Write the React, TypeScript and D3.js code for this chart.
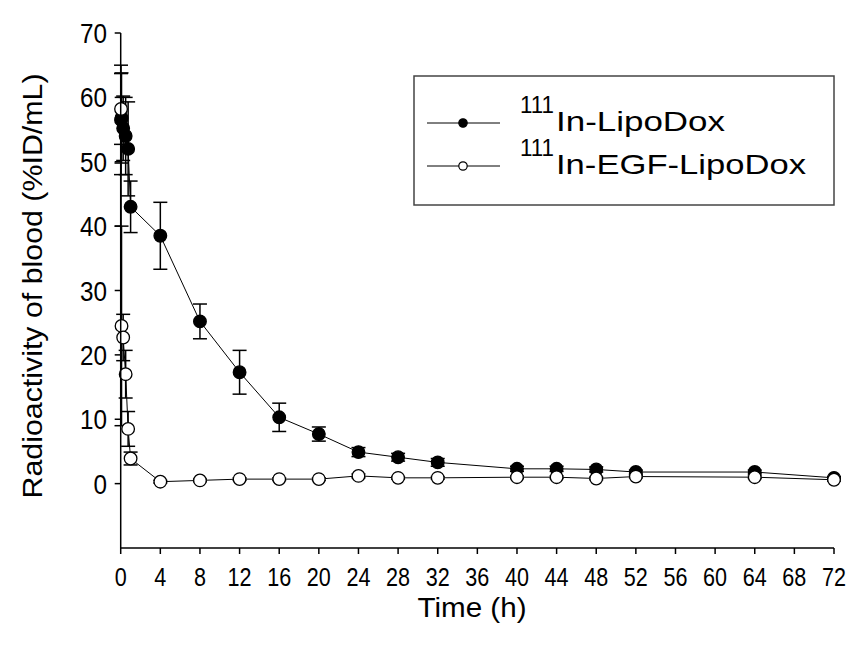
import React from "react";
import * as d3 from "d3";

// sampling times (h)
const times = [0.033, 0.083, 0.25, 0.5, 0.75, 1, 4, 8, 12, 16, 20, 24, 28, 32, 40, 44, 48, 52, 64, 72];

// 111In-LipoDox
const lipoMean = [56.5, 56.8, 55.2, 54, 52, 43, 38.5, 25.2, 17.3, 10.3, 7.7, 4.9, 4.1, 3.3, 2.3, 2.3, 2.2, 1.8, 1.8, 0.9];
const lipoSd = [8.5, 7, 5, 6, 7.3, 4, 5.2, 2.7, 3.4, 2.2, 1.1, 0.7, 0.6, 0.6, 0.4, 0.4, 0.4, 0.3, 0.3, 0.2];

// 111In-EGF-LipoDox
const egfMean = [58.2, 24.5, 22.7, 17, 8.5, 3.9, 0.3, 0.5, 0.7, 0.7, 0.7, 1.2, 0.9, 0.9, 1.0, 1.0, 0.8, 1.1, 1.0, 0.6];
const egfSd = [5.5, 15.5, 3.6, 3.7, 2.7, 1.0, 0.2, 0.2, 0.2, 0.2, 0.2, 0.3, 0.2, 0.2, 0.2, 0.2, 0.2, 0.2, 0.2, 0.2];

const xTicks = d3.range(0, 73, 4);
const yTicks = [0, 10, 20, 30, 40, 50, 60, 70];

const seriesNames = ["In-LipoDox", "In-EGF-LipoDox"];
const isotope = "111";

const W = 853;
const H = 648;
const FONT = 'Arial, "Liberation Sans", sans-serif';

export default function App() {
  // scales
  const x = d3.scaleLinear().domain([0, 72]).range([120.7, 834]);
  const y = d3.scaleLinear().domain([-10, 70]).range([548, 33]);

  const series = [
    { name: seriesNames[0], mean: lipoMean, sd: lipoSd, filled: true },
    { name: seriesNames[1], mean: egfMean, sd: egfSd, filled: false },
  ];

  const line = d3
    .line<number>()
    .x((_, i) => x(times[i]))
    .y((d) => y(d));

  const cap = 7;
  const r = 6.3;

  return (
    <svg
      width={W}
      height={H}
      style={{ position: "absolute", left: 0, top: 0, background: "#fff" }}
      fontFamily={FONT}
    >
      <rect width={W} height={H} fill="#fff" />

      {/* data */}
      {series.map((s) => (
        <g key={s.name}>
          <path d={line(s.mean) || ""} fill="none" stroke="#000" strokeWidth={1} />
          {s.mean.map((m, i) => (
            <g key={i} stroke="#000" strokeWidth={1.5}>
              <line x1={x(times[i])} x2={x(times[i])} y1={y(m + s.sd[i])} y2={y(m - s.sd[i])} />
              <line x1={x(times[i]) - cap} x2={x(times[i]) + cap} y1={y(m + s.sd[i])} y2={y(m + s.sd[i])} />
              <line x1={x(times[i]) - cap} x2={x(times[i]) + cap} y1={y(m - s.sd[i])} y2={y(m - s.sd[i])} />
            </g>
          ))}
          {s.mean.map((m, i) => (
            <circle
              key={"c" + i}
              cx={x(times[i])}
              cy={y(m)}
              r={r}
              fill={s.filled ? "#000" : "#fff"}
              stroke="#000"
              strokeWidth={1.3}
            />
          ))}
        </g>
      ))}

      {/* y axis */}
      <line x1={x(0)} x2={x(0)} y1={y(70)} y2={y(-10)} stroke="#000" strokeWidth={1.5} />
      {yTicks.map((t) => (
        <g key={t}>
          <line x1={x(0) - 6} x2={x(0)} y1={y(t)} y2={y(t)} stroke="#000" strokeWidth={1.5} />
          <text
            x={107}
            y={y(t)}
            dy="0.36em"
            textAnchor="end"
            fontSize={28}
            textLength={String(t).length * 13.5}
            lengthAdjust="spacingAndGlyphs"
          >
            {t}
          </text>
        </g>
      ))}

      {/* x axis */}
      <line x1={x(0)} x2={x(72)} y1={y(-10)} y2={y(-10)} stroke="#000" strokeWidth={1.5} />
      {xTicks.map((t) => (
        <g key={t}>
          <line x1={x(t)} x2={x(t)} y1={y(-10)} y2={y(-10) + 6} stroke="#000" strokeWidth={1.5} />
          <text
            x={x(t)}
            y={586}
            textAnchor="middle"
            fontSize={25}
            textLength={String(t).length * 12}
            lengthAdjust="spacingAndGlyphs"
          >
            {t}
          </text>
        </g>
      ))}

      {/* axis titles */}
      <text x={472} y={617} textAnchor="middle" fontSize={27} textLength={109} lengthAdjust="spacingAndGlyphs">
        Time (h)
      </text>
      <text
        transform="translate(42,286) rotate(-90)"
        textAnchor="middle"
        fontSize={28}
        textLength={425}
        lengthAdjust="spacingAndGlyphs"
      >
        Radioactivity of blood (%ID/mL)
      </text>

      {/* legend */}
      <rect x={414} y={76} width={420} height={129} fill="#fff" stroke="#444" strokeWidth={1.5} />
      {series.map((s, i) => {
        const ly = 123 + i * 43;
        return (
          <g key={"lg" + s.name}>
            <line x1={427} x2={500} y1={ly} y2={ly} stroke="#000" strokeWidth={1} />
            <circle cx={463} cy={ly} r={4.2} fill={s.filled ? "#000" : "#fff"} stroke="#000" strokeWidth={1.2} />
            <text x={520} y={ly - 10} fontSize={24} textLength={34} lengthAdjust="spacingAndGlyphs">
              {isotope}
            </text>
            <text
              x={556}
              y={ly + 8}
              fontSize={28}
              textLength={s.name.length === 10 ? 169 : 250}
              lengthAdjust="spacingAndGlyphs"
            >
              {s.name}
            </text>
          </g>
        );
      })}
    </svg>
  );
}
